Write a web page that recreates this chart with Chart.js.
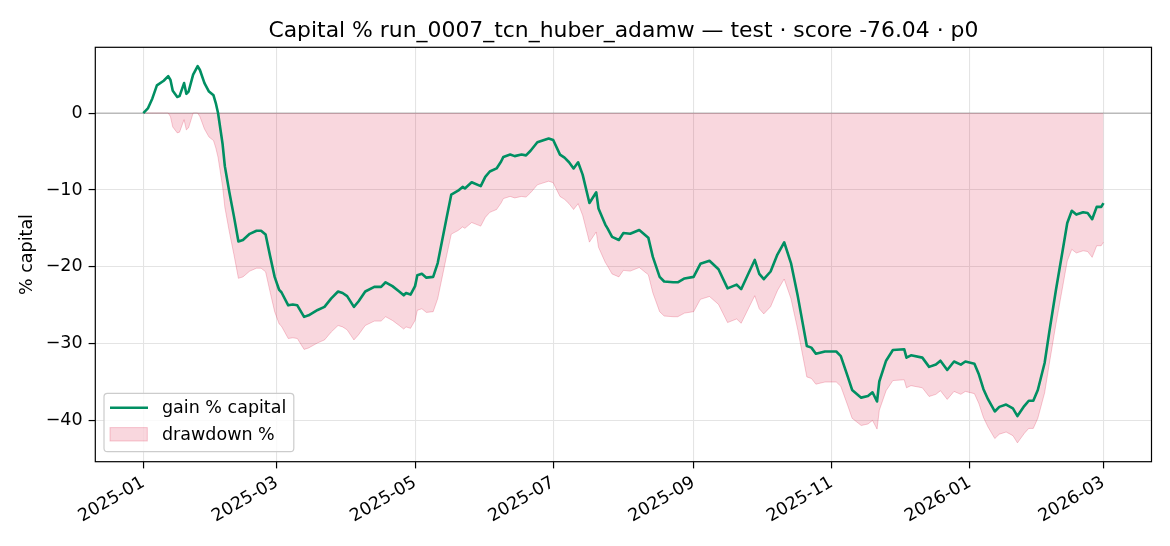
<!DOCTYPE html>
<html><head><meta charset="utf-8">
<script src="https://cdn.jsdelivr.net/npm/chart.js@4.4.1/dist/chart.umd.min.js"></script>
<style>html,body{margin:0;padding:0;background:#fff;}canvas{display:block;}</style>
</head><body>
<canvas id="c" width="1170" height="546" style="width:1170px;height:546px"></canvas>
<script>
// ---------- data ----------
const START_DATE = '2025-01-01';
const dayOffsets = [0,2,4,6,9,11,12,13,15,16,18,19,20,22,24,25,27,29,31,32,33,35,36,38,40,42,44,47,50,52,54,56,58,60,61,64,66,68,71,73,77,80,83,86,88,90,93,95,98,102,105,107,110,113,115,116,118,120,121,123,125,128,130,132,134,136,139,141,142,145,149,151,153,156,158,159,162,164,167,169,171,174,176,179,181,184,186,188,190,192,194,197,200,201,204,205,207,210,212,215,219,223,225,228,230,234,236,239,243,246,250,254,258,262,264,267,270,272,274,277,280,283,286,289,293,295,297,301,306,308,311,313,317,320,322,324,325,328,331,336,337,339,344,347,350,352,355,358,361,363,367,369,371,373,376,378,381,384,386,389,391,393,395,398,400,403,406,408,410,412,415,417,419,421,423,424];
const gainPct = [0.0,0.6,1.9,3.6,4.2,4.8,4.3,2.9,2.1,2.2,3.9,2.5,2.8,5.0,6.1,5.6,3.9,2.8,2.3,1.3,0.0,-4.0,-6.9,-10.3,-13.4,-16.7,-16.5,-15.7,-15.3,-15.3,-15.8,-18.6,-21.3,-23.0,-23.3,-25.0,-24.9,-25.0,-26.5,-26.3,-25.6,-25.2,-24.1,-23.2,-23.4,-23.8,-25.2,-24.5,-23.2,-22.6,-22.6,-22.0,-22.5,-23.2,-23.7,-23.4,-23.6,-22.5,-21.1,-20.9,-21.4,-21.3,-19.5,-16.5,-13.5,-10.6,-10.1,-9.6,-9.8,-9.0,-9.5,-8.3,-7.6,-7.2,-6.3,-5.7,-5.4,-5.6,-5.4,-5.5,-4.9,-3.8,-3.6,-3.3,-3.5,-5.4,-5.8,-6.4,-7.2,-6.4,-8.0,-11.7,-10.3,-12.4,-14.5,-15.0,-16.1,-16.5,-15.6,-15.7,-15.2,-16.2,-18.7,-21.3,-21.9,-22.0,-22.0,-21.5,-21.3,-19.6,-19.2,-20.3,-22.8,-22.3,-22.9,-21.0,-19.1,-20.9,-21.6,-20.6,-18.4,-16.8,-19.5,-23.8,-30.3,-30.5,-31.3,-31.0,-31.0,-31.6,-34.2,-36.0,-37.0,-36.8,-36.3,-37.5,-34.9,-32.2,-30.8,-30.7,-31.8,-31.5,-31.8,-33.0,-32.7,-32.2,-33.4,-32.3,-32.7,-32.3,-32.6,-34.0,-35.9,-37.2,-38.8,-38.2,-37.9,-38.4,-39.4,-38.1,-37.4,-37.4,-36.0,-32.5,-28.6,-23.0,-17.8,-14.3,-12.7,-13.2,-12.9,-13.0,-13.8,-12.2,-12.2,-11.7];
const drawdownPct = [0,0,0,0,0,0,-0.48,-1.81,-2.58,-2.48,-0.86,-2.19,-1.91,0,0,-0.47,-2.07,-3.11,-3.58,-4.52,-5.75,-9.52,-12.25,-15.46,-18.38,-21.49,-21.30,-20.55,-20.17,-20.17,-20.64,-23.28,-25.82,-27.43,-27.71,-29.31,-29.22,-29.31,-30.73,-30.54,-29.88,-29.50,-28.46,-27.62,-27.80,-28.18,-29.50,-28.84,-27.62,-27.05,-27.05,-26.48,-26.96,-27.62,-28.09,-27.80,-27.99,-26.96,-25.64,-25.45,-25.92,-25.82,-24.13,-21.30,-18.47,-15.74,-15.27,-14.80,-14.99,-14.23,-14.70,-13.57,-12.91,-12.54,-11.69,-11.12,-10.84,-11.03,-10.84,-10.93,-10.37,-9.33,-9.14,-8.86,-9.05,-10.84,-11.22,-11.78,-12.54,-11.78,-13.29,-16.78,-15.46,-17.44,-19.42,-19.89,-20.92,-21.30,-20.45,-20.55,-20.08,-21.02,-23.37,-25.82,-26.39,-26.48,-26.48,-26.01,-25.82,-24.22,-23.85,-24.88,-27.24,-26.77,-27.33,-25.54,-23.75,-25.45,-26.11,-25.17,-23.09,-21.58,-24.13,-28.18,-34.31,-34.50,-35.25,-34.97,-34.97,-35.53,-37.98,-39.68,-40.62,-40.43,-39.96,-41.09,-38.64,-36.10,-34.78,-34.68,-35.72,-35.44,-35.72,-36.85,-36.57,-36.10,-37.23,-36.19,-36.57,-36.19,-36.48,-37.79,-39.59,-40.81,-42.32,-41.75,-41.47,-41.94,-42.88,-41.66,-41.00,-41.00,-39.68,-36.38,-32.71,-27.43,-22.53,-19.23,-17.72,-18.19,-17.91,-18.00,-18.76,-17.25,-17.25,-16.78];
const xTickLabels = ['2025-01','2025-03','2025-05','2025-07','2025-09','2025-11','2026-01','2026-03'];
const yTickValues = [0, -10, -20, -30, -40];
const TITLE = 'Capital % run_0007_tcn_huber_adamw \u2014 test \u00b7 score -76.04 \u00b7 p0';
const Y_LABEL = '% capital';
const SERIES_LABELS = ['gain % capital', 'drawdown %'];

// ---------- styling ----------
const FONT = "'DejaVu Sans', sans-serif";
const FS = 17.5;
const GREEN = '#008f62';
const DD_FILL = 'rgba(220,20,60,0.17)';
const DD_EDGE = 'rgba(220,20,60,0.22)';

const startMs = Date.parse(START_DATE + 'T00:00:00Z');
const tickDays = xTickLabels.map(s => (Date.parse(s + '-01T00:00:00Z') - startMs) / 86400000);
const xFirst = dayOffsets[0], xLast = dayOffsets[dayOffsets.length - 1];
const xMin = xFirst - 0.05 * (xLast - xFirst), xMax = xLast + 0.05 * (xLast - xFirst);
const yLo = Math.min(...drawdownPct, ...gainPct), yHi = Math.max(...gainPct, ...drawdownPct);
const yMin = yLo - 0.05 * (yHi - yLo), yMax = yHi + 0.05 * (yHi - yLo);

const decor = {
  id: 'decor',
  beforeDatasetsDraw(chart) {
    const {ctx, chartArea: a, scales: {y}} = chart;
    const py = y.getPixelForValue(0);
    ctx.save();
    ctx.strokeStyle = 'rgba(128,128,128,0.55)';
    ctx.lineWidth = 1.2;
    ctx.beginPath(); ctx.moveTo(a.left, py); ctx.lineTo(a.right, py); ctx.stroke();
    ctx.restore();
  },
  afterDraw(chart) {
    const {ctx, chartArea: a} = chart;
    ctx.save();
    // spines
    ctx.strokeStyle = '#000'; ctx.lineWidth = 1.2;
    ctx.strokeRect(a.left, a.top, a.right - a.left, a.bottom - a.top);
    // title
    ctx.fillStyle = '#000';
    ctx.font = '21.9px ' + FONT;
    ctx.textAlign = 'center'; ctx.textBaseline = 'alphabetic';
    ctx.fillText(TITLE, (a.left + a.right) / 2, 36.5);
    // y label
    ctx.font = FS + 'px ' + FONT;
    ctx.save();
    ctx.translate(27, (a.top + a.bottom) / 2);
    ctx.rotate(-Math.PI / 2);
    ctx.textAlign = 'center'; ctx.textBaseline = 'middle';
    ctx.fillText(Y_LABEL, 0, 0);
    ctx.restore();
    // legend
    ctx.font = FS + 'px ' + FONT;
    const tw = Math.max(...SERIES_LABELS.map(l => ctx.measureText(l).width));
    const bx = a.left + 8.7, bh = 58.4, by = a.bottom - 10 - bh;
    const bw = 6 + 38 + 14 + tw + 7.5;
    const r = 3.5;
    ctx.beginPath();
    ctx.moveTo(bx + r, by); ctx.lineTo(bx + bw - r, by); ctx.arcTo(bx + bw, by, bx + bw, by + r, r);
    ctx.lineTo(bx + bw, by + bh - r); ctx.arcTo(bx + bw, by + bh, bx + bw - r, by + bh, r);
    ctx.lineTo(bx + r, by + bh); ctx.arcTo(bx, by + bh, bx, by + bh - r, r);
    ctx.lineTo(bx, by + r); ctx.arcTo(bx, by, bx + r, by, r);
    ctx.closePath();
    ctx.fillStyle = 'rgba(255,255,255,0.8)'; ctx.fill();
    ctx.strokeStyle = '#cccccc'; ctx.lineWidth = 1.2; ctx.stroke();
    const r1 = by + 14.5, r2 = by + 41;
    ctx.strokeStyle = GREEN; ctx.lineWidth = 2.6;
    ctx.beginPath(); ctx.moveTo(bx + 6, r1); ctx.lineTo(bx + 44, r1); ctx.stroke();
    ctx.fillStyle = DD_FILL; ctx.fillRect(bx + 6, r2 - 6.7, 37.3, 13.4);
    ctx.strokeStyle = DD_EDGE; ctx.lineWidth = 1; ctx.strokeRect(bx + 6, r2 - 6.7, 37.3, 13.4);
    ctx.fillStyle = '#000'; ctx.textAlign = 'left'; ctx.textBaseline = 'middle';
    ctx.fillText(SERIES_LABELS[0], bx + 58, r1 + 1);
    ctx.fillText(SERIES_LABELS[1], bx + 58, r2 + 1);
    ctx.restore();
  }
};

new Chart(document.getElementById('c'), {
  type: 'line',
  data: {
    datasets: [
      {
        label: SERIES_LABELS[0],
        data: dayOffsets.map((d, i) => ({x: d, y: gainPct[i]})),
        borderColor: GREEN, borderWidth: 2.6, pointRadius: 0, fill: false,
        tension: 0, borderJoinStyle: 'round', order: 0
      },
      {
        label: SERIES_LABELS[1],
        data: dayOffsets.map((d, i) => ({x: d, y: drawdownPct[i]})),
        borderColor: DD_EDGE, backgroundColor: DD_FILL, borderWidth: 1, pointRadius: 0,
        fill: 'origin', tension: 0, order: 1
      }
    ]
  },
  options: {
    responsive: false, animation: false, devicePixelRatio: 1,
    events: [],
    layout: {padding: {top: 47.3, right: 18.5, left: 0, bottom: 0}},
    plugins: {legend: {display: false}, title: {display: false}, tooltip: {enabled: false}},
    scales: {
      x: {
        type: 'linear', min: xMin, max: xMax,
        afterBuildTicks: s => { s.ticks = tickDays.map(v => ({value: v})); },
        afterFit: s => { s.height = 546 - 461.7; },
        ticks: {
          autoSkip: false, minRotation: 30, maxRotation: 30, padding: 4,
          color: '#000', font: {family: FONT, size: FS},
          callback: (v, i) => xTickLabels[i]
        },
        grid: {color: '#e4e4e4', lineWidth: 1.1, tickColor: '#000', tickLength: 6.7, tickWidth: 1.2},
        border: {display: false}
      },
      y: {
        min: yMin, max: yMax,
        afterBuildTicks: s => { s.ticks = yTickValues.map(v => ({value: v})); },
        afterFit: s => { s.width = 95.3; },
        ticks: {
          padding: 6, color: '#000', font: {family: FONT, size: FS},
          callback: v => String(v).replace('-', '\u2212')
        },
        grid: {color: '#e4e4e4', lineWidth: 1.1, tickColor: '#000', tickLength: 6.7, tickWidth: 1.2},
        border: {display: false}
      }
    }
  },
  plugins: [decor]
});
</script>
</body></html>
